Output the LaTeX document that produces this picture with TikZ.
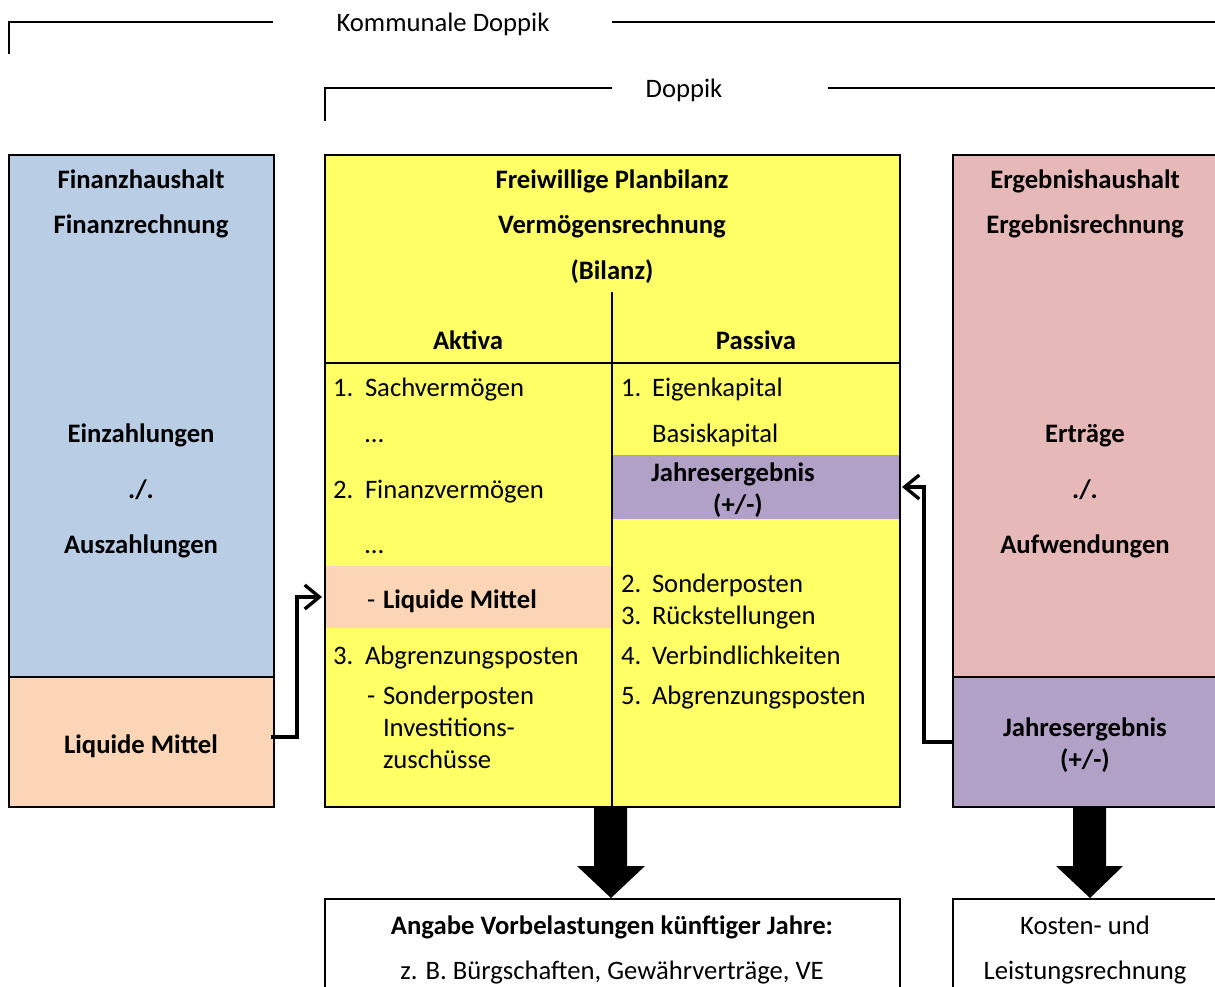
\documentclass[tikz,border=0pt]{standalone}
\usepackage{fontspec}
\setmainfont{Carlito}
\usetikzlibrary{arrows.meta,calc}
\definecolor{cblue}{HTML}{B9CDE5}
\definecolor{cpeach}{HTML}{FBD5B5}
\definecolor{cyellow}{HTML}{FFFF66}
\definecolor{cpink}{HTML}{E6B9B8}
\definecolor{cpurple}{HTML}{B2A1C7}
\begin{document}
\begin{tikzpicture}[x=0.75pt,y=-0.75pt,
  every node/.style={font=\fontsize{20}{24}\selectfont, inner sep=0pt, outer sep=0pt},
  bx/.style={anchor=north west, inner sep=0pt, line width=1.5pt},
  br/.style={line width=1.5pt},
  rl/.style={line width=1.5pt},
  tx/.style={anchor=mid, yshift=-4.5pt},
  tl/.style={anchor=mid west, yshift=-4.5pt},
  tb/.style={anchor=mid, yshift=-4.5pt, font=\fontsize{20}{24}\selectfont\bfseries},
  conn/.style={line width=3pt, -{Straight Barb[length=11pt,width=18pt,line width=2.5pt]}},
  blk/.style={fill=black}
]
\useasboundingbox (0,0) rectangle (1215,987);
\clip (0,0) rectangle (1215,987);

% top brackets
\node[tx] (kd) at (443,22) {Kommunale Doppik};
\draw[br] (9,54) -- (9,22) -- (273,22);
\draw[br] (612,22) -- (1230,22);
\node[tx] (dp) at (684,88) {Doppik};
\draw[br] (325,121) -- (325,88) -- (612,88);
\draw[br] (828,88) -- (1230,88);

% left column
\node[bx, draw, fill=cblue, minimum width={265*0.75pt}, minimum height={522*0.75pt}] (fin) at (9,155) {};
\node[bx, draw, fill=cpeach, minimum width={265*0.75pt}, minimum height={130*0.75pt}] (liq) at (9,677) {};
\node[tb] (t1) at (141,179) {Finanzhaushalt};
\node[tb] (t2) at (141,224) {Finanzrechnung};
\node[tb] (t3) at (141,433) {Einzahlungen};
\node[tb] (t4) at (141,489) {./.};
\node[tb] (t5) at (141,544) {Auszahlungen};
\node[tb] (t6) at (141,744) {Liquide Mittel};

% middle column
\node[bx, fill=cyellow, minimum width={575*0.75pt}, minimum height={652*0.75pt}] (bil) at (325,155) {};
\node[bx, fill=cpeach, minimum width={287*0.75pt}, minimum height={62*0.75pt}] (liqA) at (325,566) {};
\node[bx, fill=cpurple, minimum width={288*0.75pt}, minimum height={64*0.75pt}] (jeA) at (612,455) {};
\draw[rl] (bil.north west) rectangle (bil.south east);
\draw[rl] (325,363) -- (900,363);
\draw[rl] (612,292) -- (612,807);

\node[tb] (m1) at (612,179) {Freiwillige Planbilanz};
\node[tb] (m2) at (612,224) {Vermögensrechnung};
\node[tb] (m3) at (612,270) {(Bilanz)};
\node[tb] (ak) at (468,340) {Aktiva};
\node[tb] (pa) at (756,340) {Passiva};

\node[tl] (a1n) at (333,387) {1.};
\node[tl] (a1) at (365,387) {Sachvermögen};
\node[tl] (a1d) at (365,433) {…};
\node[tl] (a2n) at (333,489) {2.};
\node[tl] (a2) at (365,489) {Finanzvermögen};
\node[tl] (a2d) at (365,544) {…};
\node[tl] (a2m) at (367,599) {-};
\node[tl, font=\fontsize{20}{24}\selectfont\bfseries] (a2l) at (383,599) {Liquide Mittel};
\node[tl] (a3n) at (333,655) {3.};
\node[tl] (a3) at (365,655) {Abgrenzungsposten};
\node[tl] (a3m) at (367,695) {-};
\node[tl] (a3a) at (383,695) {Sonderposten};
\node[tl] (a3b) at (383,727) {Investitions-};
\node[tl] (a3c) at (383,759) {zuschüsse};

\node[tl] (p1n) at (621,387) {1.};
\node[tl] (p1) at (652,387) {Eigenkapital};
\node[tl] (p1b) at (652,433) {Basiskapital};
\node[tb] (p1j) at (733,472) {Jahresergebnis};
\node[tb] (p1k) at (738,504) {(+/-)};
\node[tl] (p2n) at (621,583) {2.};
\node[tl] (p2) at (652,583) {Sonderposten};
\node[tl] (p3n) at (621,615) {3.};
\node[tl] (p3) at (652,615) {Rückstellungen};
\node[tl] (p4n) at (621,655) {4.};
\node[tl] (p4) at (652,655) {Verbindlichkeiten};
\node[tl] (p5n) at (621,695) {5.};
\node[tl] (p5) at (652,695) {Abgrenzungsposten};

% right column
\node[bx, draw, fill=cpink, minimum width={300*0.75pt}, minimum height={522*0.75pt}] (erg) at (953,155) {};
\node[bx, draw, fill=cpurple, minimum width={300*0.75pt}, minimum height={130*0.75pt}] (je) at (953,677) {};
\node[tb] (r1) at (1085,179) {Ergebnishaushalt};
\node[tb] (r2) at (1085,224) {Ergebnisrechnung};
\node[tb] (r3) at (1085,433) {Erträge};
\node[tb] (r4) at (1085,489) {./.};
\node[tb] (r5) at (1085,544) {Aufwendungen};
\node[tb] (r6) at (1085,727) {Jahresergebnis};
\node[tb] (r7) at (1085,759) {(+/-)};

% bottom boxes
\node[bx, draw, minimum width={575*0.75pt}, minimum height={120*0.75pt}] (ang) at (325,899) {};
\node[bx, draw, minimum width={300*0.75pt}, minimum height={120*0.75pt}] (klr) at (953,899) {};
\node[tb] (b1) at (612,925) {Angabe Vorbelastungen künftiger Jahre:};
\node[tx] (b2) at (612,970) {z. B. Bürgschaften, Gewährverträge, VE};
\node[tx] (k1) at (1085,925) {Kosten- und};
\node[tx] (k2) at (1085,970) {Leistungsrechnung};

% block arrows
\fill[blk] (594,807) -- (627,807) -- (627,866) -- (645,866) -- (611,898) -- (577,866) -- (594,866) -- cycle;
\fill[blk] (1073,807) -- (1106,807) -- (1106,866) -- (1123,866) -- (1090,898) -- (1056,866) -- (1073,866) -- cycle;

% connectors
\draw[conn] ($(liq.east)+(-3,-5)$) -- ++(26,0) |- ($(liqA.west)+(-3,0)$);
\draw[conn] (je.west) -- ++(-29,0) |- ($(jeA.east)+(2,0)$);
\end{tikzpicture}
\end{document}
